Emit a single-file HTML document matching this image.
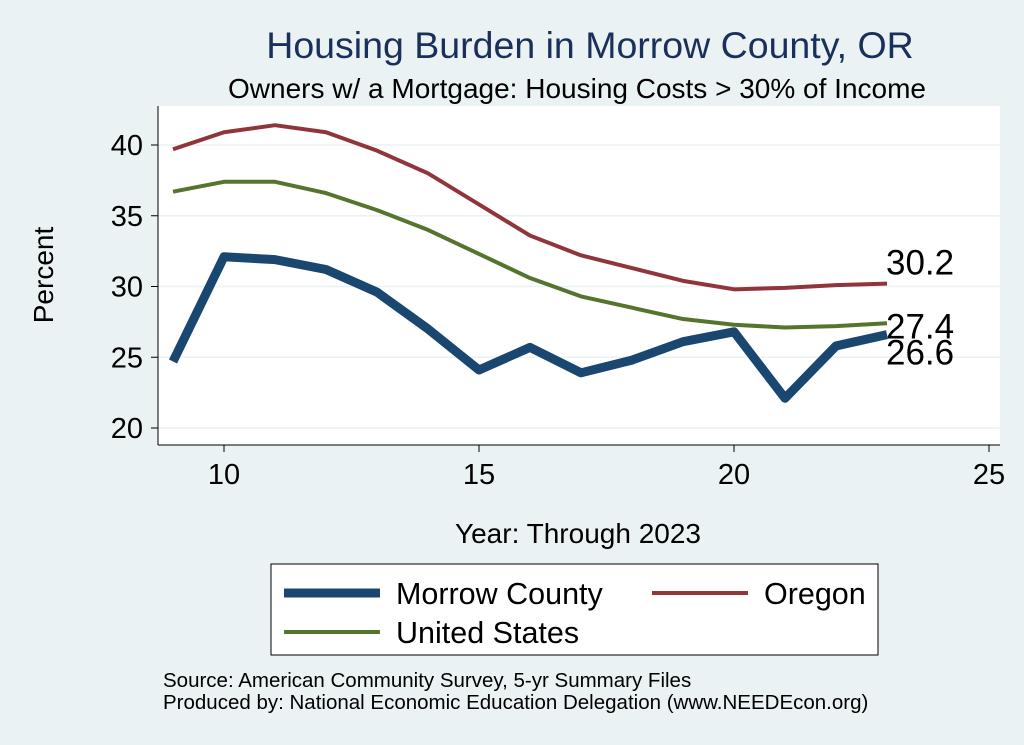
<!DOCTYPE html>
<html><head><meta charset="utf-8"><style>
body{margin:0;background:#eaf2f3;}
svg{display:block;font-family:"Liberation Sans",sans-serif;}
</style></head><body>
<svg width="1024" height="745" viewBox="0 0 1024 745">
<rect x="0" y="0" width="1024" height="745" fill="#eaf2f3"/>
<text x="590" y="58" text-anchor="middle" font-size="37.5" fill="#1a2f5a">Housing Burden in Morrow County, OR</text>
<text x="577" y="98" text-anchor="middle" font-size="28" fill="#000">Owners w/ a Mortgage: Housing Costs &gt; 30% of Income</text>
<rect x="158" y="106" width="842" height="339" fill="#fff"/>
<g id="grid"></g>
<line x1="158" y1="106" x2="158" y2="445" stroke="#000" stroke-width="1"/>
<line x1="158" y1="445" x2="1000" y2="445" stroke="#000" stroke-width="1"/>
<g id="yticks"></g>
<g id="xticks"></g>
<g id="series"></g>
<text x="53" y="275" text-anchor="middle" font-size="28" transform="rotate(-90 53 275)">Percent</text>
<text x="578" y="543" text-anchor="middle" font-size="28">Year: Through 2023</text>
<g>
<rect x="271" y="564" width="607" height="91" fill="#fff" stroke="#000" stroke-width="1"/>
<line x1="284" y1="593" x2="380" y2="593" stroke="#1a476f" stroke-width="9"/>
<text x="396" y="604" font-size="30.5">Morrow County</text>
<line x1="652" y1="593" x2="748" y2="593" stroke="#90353b" stroke-width="4"/>
<text x="764" y="604" font-size="30.5">Oregon</text>
<line x1="284" y1="632" x2="380" y2="632" stroke="#55752f" stroke-width="4"/>
<text x="396" y="643" font-size="30.5">United States</text>
</g>
<text x="163" y="687" font-size="20.5">Source: American Community Survey, 5-yr Summary Files</text>
<text x="163" y="709" font-size="20.5">Produced by: National Economic Education Delegation (www.NEEDEcon.org)</text>
</svg>
<script>
const years=[9,10,11,12,13,14,15,16,17,18,19,20,21,22,23];
const morrow=[24.7,32.1,31.9,31.2,29.6,27.0,24.1,25.7,23.9,24.8,26.1,26.8,22.1,25.8,26.6];
const oregon=[39.7,40.9,41.4,40.9,39.6,38.0,35.8,33.6,32.2,31.3,30.4,29.8,29.9,30.1,30.2];
const us=[36.7,37.4,37.4,36.6,35.4,34.0,32.3,30.6,29.3,28.5,27.7,27.3,27.1,27.2,27.4];
const yTicks=[20,25,30,35,40];
const xTicks=[10,15,20,25];
const NS="http://www.w3.org/2000/svg";
function xs(v){return 224+(v-10)*51;}
function ys(v){return 428-(v-20)*14.15;}
function mk(tag,attrs,parent){const e=document.createElementNS(NS,tag);for(const k in attrs)e.setAttribute(k,attrs[k]);document.getElementById(parent).appendChild(e);return e;}
yTicks.forEach(t=>{
 const g=mk('line',{x1:158,x2:1000,y1:ys(t),y2:ys(t),stroke:'#eaf2f3','stroke-width':1.5},'grid');
 
 
 const tk=mk('line',{x1:151,x2:158,y1:ys(t),y2:ys(t),stroke:'#000'},'yticks');
 
 
 const tx=mk('text',{x:143,y:ys(t)+10,'text-anchor':'end','font-size':29},'yticks');
 tx.textContent=t;
 
 
});
xTicks.forEach(t=>{
 const tk=mk('line',{x1:xs(t),x2:xs(t),y1:445,y2:452,stroke:'#000'},'xticks');
 
 
 const tx=mk('text',{x:xs(t),y:484,'text-anchor':'middle','font-size':29},'xticks');
 tx.textContent=t;
 
 
});
function line(vals,color,w,name){
 const d=vals.map((v,i)=>(i?'L':'M')+xs(years[i])+','+ys(v)).join(' ');
 const p=mk('path',{d:d,fill:'none',stroke:color,'stroke-width':w,'stroke-linejoin':'round'},'series');
 
 
}
line(oregon,'#90353b',4,'oregon-line');
line(us,'#55752f',4,'us-line');
line(morrow,'#1a476f',9,'morrow-line');
function lab(v,dy,name){
 const n=years.length-1;
 const t=mk('text',{x:xs(years[n])-1,y:ys(v)+dy,'font-size':35},'series');
 t.textContent=v.toFixed(1);
 
 
}
lab(oregon[oregon.length-1],-9,'oregon-end-label');
lab(us[us.length-1],15,'us-end-label');
lab(morrow[morrow.length-1],30,'morrow-end-label');
</script>
</body></html>
